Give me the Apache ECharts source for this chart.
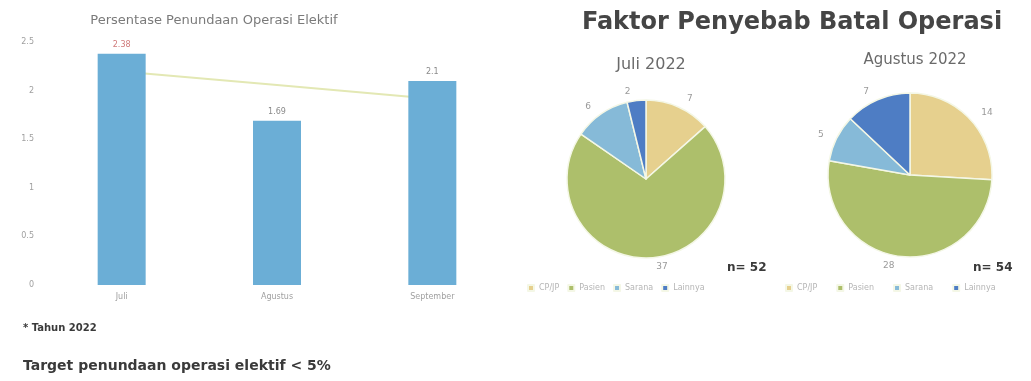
<!DOCTYPE html>
<html>
<head>
<meta charset="utf-8">
<style>
  html, body { margin: 0; padding: 0; background: #ffffff; }
  #chart { width: 1031px; height: 381px; }
</style>
<script src="https://cdn.jsdelivr.net/npm/echarts@6/dist/echarts.min.js"></script>
</head>
<body>
<div id="chart"></div>
<script>
// Postponed elective surgery (%) per month, 2022
const months = ['Juli', 'Agustus', 'September'];
const postponedPct = [2.38, 1.69, 2.1];
const yTicks = { min: 0, max: 2.5, interval: 0.5 };

// Causes of cancelled operations
const causes = ['CP/JP', 'Pasien', 'Sarana', 'Lainnya'];
const causeColors = ['#E6D08E', '#ADBF6B', '#86BAD8', '#4E7DC4'];
const julyCounts = [7, 37, 6, 2];
const augustCounts = [14, 28, 5, 7];

// Least-squares linear trend across the monthly bars
function linearTrend(values) {
  const n = values.length;
  const xs = values.map((_, i) => i);
  const mx = xs.reduce((a, b) => a + b, 0) / n;
  const my = values.reduce((a, b) => a + b, 0) / n;
  let num = 0, den = 0;
  xs.forEach((x, i) => { num += (x - mx) * (values[i] - my); den += (x - mx) * (x - mx); });
  const slope = num / den;
  return xs.map(x => +(my + slope * (x - mx)).toFixed(3));
}

const sumOf = arr => arr.reduce((a, b) => a + b, 0);
const pieData = counts => causes.map((name, i) => ({ name, value: counts[i], itemStyle: { color: causeColors[i] } }));

const chart = echarts.init(document.getElementById('chart'), null, { renderer: 'canvas' });

const FONT = 'DejaVu Sans';

const pieSeries = (counts, center, radius) => ({
  type: 'pie',
  center: center,
  radius: radius,
  startAngle: 90,
  clockwise: true,
  data: pieData(counts),
  itemStyle: { borderColor: '#f4f7e6', borderWidth: 1.5 },
  label: {
    show: true,
    position: 'outside',
    formatter: '{c}',
    color: '#9a9a9a',
    fontSize: 9,
    fontFamily: FONT
  },
  labelLine: { show: false, length: 9, length2: 0 },
  emphasis: { disabled: true },
  animation: false
});

const option = {
  animation: false,
  textStyle: { fontFamily: FONT },
  title: [
    {
      text: 'Persentase Penundaan Operasi Elektif',
      left: 209, top: 9, textAlign: 'center',
      textStyle: { fontSize: 13, fontWeight: 'normal', color: '#7a7a7a', fontFamily: FONT }
    },
    {
      text: '* Tahun 2022',
      left: 18, top: 318,
      textStyle: { fontSize: 10, fontWeight: 'bold', color: '#3a3a3a', fontFamily: FONT }
    },
    {
      text: 'Target penundaan operasi elektif < 5%',
      left: 18, top: 354,
      textStyle: { fontSize: 14, fontWeight: 'bold', color: '#3a3a3a', fontFamily: FONT }
    },
    {
      text: 'Faktor Penyebab Batal Operasi',
      left: 787, top: 6, textAlign: 'center',
      textStyle: { fontSize: 24, fontWeight: 'bold', color: '#454545', fontFamily: FONT }
    },
    {
      text: 'Juli 2022',
      left: 646, top: 52, textAlign: 'center',
      textStyle: { fontSize: 16, fontWeight: 'normal', color: '#6a6a6a', fontFamily: FONT }
    },
    {
      text: 'Agustus 2022',
      left: 910, top: 48, textAlign: 'center',
      textStyle: { fontSize: 15, fontWeight: 'normal', color: '#6a6a6a', fontFamily: FONT }
    },
    {
      text: 'n= ' + sumOf(julyCounts),
      left: 722, top: 257,
      textStyle: { fontSize: 12, fontWeight: 'bold', color: '#3a3a3a', fontFamily: FONT }
    },
    {
      text: 'n= ' + sumOf(augustCounts),
      left: 968, top: 257,
      textStyle: { fontSize: 12, fontWeight: 'bold', color: '#3a3a3a', fontFamily: FONT }
    }
  ],
  legend: [
    {
      data: causes, left: 522, top: 279,
      itemWidth: 6, itemHeight: 6, itemGap: 8, icon: 'rect',
      textStyle: { fontSize: 8, color: '#b5b5b5', fontFamily: FONT },
      selectedMode: false
    },
    {
      data: causes, left: 780, top: 279,
      itemWidth: 6, itemHeight: 6, itemGap: 19, icon: 'rect',
      textStyle: { fontSize: 8, color: '#b5b5b5', fontFamily: FONT },
      selectedMode: false
    }
  ],
  grid: { left: 44, right: 521, top: 42, bottom: 96, containLabel: false },
  xAxis: {
    type: 'category',
    data: months,
    axisLine: { show: false },
    axisTick: { show: false },
    axisLabel: { color: '#a0a0a0', fontSize: 8, margin: 8, fontFamily: FONT }
  },
  yAxis: {
    type: 'value',
    min: yTicks.min, max: yTicks.max, interval: yTicks.interval,
    axisLine: { show: false },
    axisTick: { show: false },
    splitLine: { show: false },
    axisLabel: { color: '#a0a0a0', fontSize: 8, margin: 10, fontFamily: FONT }
  },
  series: [
    {
      type: 'line',
      data: linearTrend(postponedPct),
      symbol: 'none',
      lineStyle: { color: '#E3E8B4', width: 2 },
      z: 1,
      silent: true
    },
    {
      type: 'bar',
      data: postponedPct.map((v, i) => ({
        value: v,
        label: { color: i === 0 ? '#d07a7a' : '#8a8a8a' }
      })),
      barWidth: 48,
      itemStyle: { color: '#6BAED6' },
      label: { show: true, position: 'top', fontSize: 8, distance: 5, fontFamily: FONT },
      z: 2
    },
    pieSeries(julyCounts, [646, 179], 79),
    pieSeries(augustCounts, [910, 175], 82)
  ]
};

chart.setOption(option);
</script>
</body>
</html>
